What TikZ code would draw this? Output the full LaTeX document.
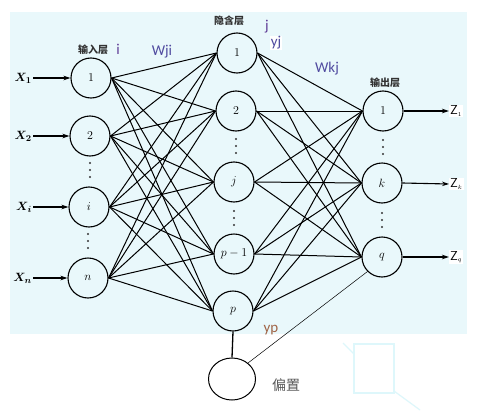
\documentclass[tikz,border=0pt]{standalone}
\usepackage{amsmath}
\usepackage{fontspec}
\newfontfamily\cjk{Noto Sans CJK SC}
\newfontfamily\lbl{Carlito}
\usetikzlibrary{arrows.meta,shapes.geometric}
\definecolor{bg}{RGB}{233,248,251}
\definecolor{wcol}{RGB}{80,75,160}
\definecolor{jcol}{RGB}{95,60,150}
\definecolor{ypcol}{RGB}{160,100,70}
\definecolor{faint}{RGB}{222,247,251}
\tikzset{
  neuron/.style={circle,draw,line width=1.1pt,minimum size=40pt,inner sep=0pt,font=\fontsize{12}{12}\selectfont},
  conn/.style={line width=1pt},
  inarrow/.style={line width=1.1pt,-{Stealth[length=7pt,width=4.5pt]}},
  layertitle/.style={font=\cjk\bfseries\fontsize{10}{10}\selectfont,text=black!80},
  wlabel/.style={font=\lbl\fontsize{15}{15}\selectfont,text=wcol},
  xlab/.style={anchor=east,inner sep=1pt,font=\fontsize{13}{13}\selectfont},
  zlab/.style={anchor=west,fill=white,inner sep=1pt,font=\fontsize{13}{13}\selectfont},
  dotc/.style={fill=black!80}
}
\begin{document}
\begin{tikzpicture}[x=1pt,y=-1pt]
\useasboundingbox (0,0) rectangle (500,412);
\fill[white] (0,0) rectangle (500,412);
\fill[bg] (10,12) rectangle (467,334);
% faint artefact
\draw[faint,line width=1.2pt] (354,344) rectangle (394,393);
\draw[faint,line width=1.2pt] (343,343) -- (354,354);
\draw[faint,line width=1.2pt] (394,391) -- (420,410);
% input layer
\node[neuron] (i1) at (91,78) {1};
\node[neuron] (i2) at (90,136) {2};
\node[neuron] (ii) at (89,207) {$i$};
\node[neuron] (in) at (88,278) {$n$};
% hidden layer
\node[neuron] (h1) at (237,53) {1};
\node[neuron] (h2) at (236,111) {2};
\node[neuron] (hj) at (234,182) {$j$};
\node[neuron] (hp1) at (234,254) {$p-1$};
\node[neuron] (hp) at (233,311) {$p$};
% output layer
\node[neuron] (o1) at (383,111) {1};
\node[neuron] (ok) at (382,183) {$k$};
\node[neuron] (oq) at (382,257) {$q$};
% bias
\node[ellipse,draw,line width=1pt,minimum width=47pt,minimum height=42pt,inner sep=0pt] (bias) at (232,379) {};
% connections input -> hidden
\foreach \a in {i1,i2,ii,in}{
  \foreach \b in {h1,h2,hj,hp1,hp}{
    \draw[conn] (\a.east) -- (\b.west);
  }
}
% hidden -> output
\foreach \a in {h1,h2,hj,hp1,hp}{
  \foreach \b in {o1,ok,oq}{
    \draw[conn] (\a.east) -- (\b.west);
  }
}
% bias links
\draw[line width=1.3pt] (hp.south) -- (bias.north);
\draw[line width=0.5pt] (bias.45) -- (oq.225);
% inputs
\node[xlab] (x1) at (33,78) {$\boldsymbol{X_1}$};
\node[xlab] (x2) at (33,136) {$\boldsymbol{X_2}$};
\node[xlab] (xi) at (33,207) {$\boldsymbol{X_i}$};
\node[xlab] (xn) at (33,278) {$\boldsymbol{X_n}$};
\draw[inarrow] (x1.east) -- (i1.west);
\draw[inarrow] (x2.east) -- (i2.west);
\draw[inarrow] (xi.east) -- (ii.west);
\draw[inarrow] (xn.east) -- (in.west);
% outputs
\node[zlab] (z1) at (449,111) {$\mathsf{Z}_{\scriptscriptstyle 1}$};
\node[zlab] (zk) at (449,184) {$\mathsf{Z}_{\scriptscriptstyle k}$};
\node[zlab] (zq) at (449,257) {$\mathsf{Z}_{\scriptscriptstyle q}$};
\draw[inarrow] (o1.east) -- (z1.west);
\draw[inarrow] (ok.east) -- (zk.west);
\draw[inarrow] (oq.east) -- (zq.west);
% dots
\foreach \x/\y in {90/170, 88/241, 236/146, 234/218, 383/147, 382/220}{
  \fill[dotc] (\x,\y-7) circle (1.1pt) (\x,\y) circle (1.1pt) (\x,\y+7) circle (1.1pt);
}
% labels
\node[layertitle] (tin) at (93,50) {输入层};
\node[wlabel,text=jcol] (ti) at (118,49) {i};
\node[wlabel] (twji) at (162,52) {Wji};
\node[layertitle] (thid) at (229,21) {隐含层};
\node[wlabel,text=jcol] (tj) at (267,27) {j};
\node[wlabel,fill=white,inner sep=0.5pt] (tyj) at (276,43) {yj};
\node[wlabel] (twkj) at (327,69) {Wkj};
\node[layertitle] (tout) at (385,83) {输出层};
\node[wlabel,text=ypcol] (typ) at (271,330) {yp};
\node[font=\cjk\fontsize{14}{14}\selectfont,text=black!65] (tbias) at (286,385) {偏置};
\end{tikzpicture}
\end{document}
